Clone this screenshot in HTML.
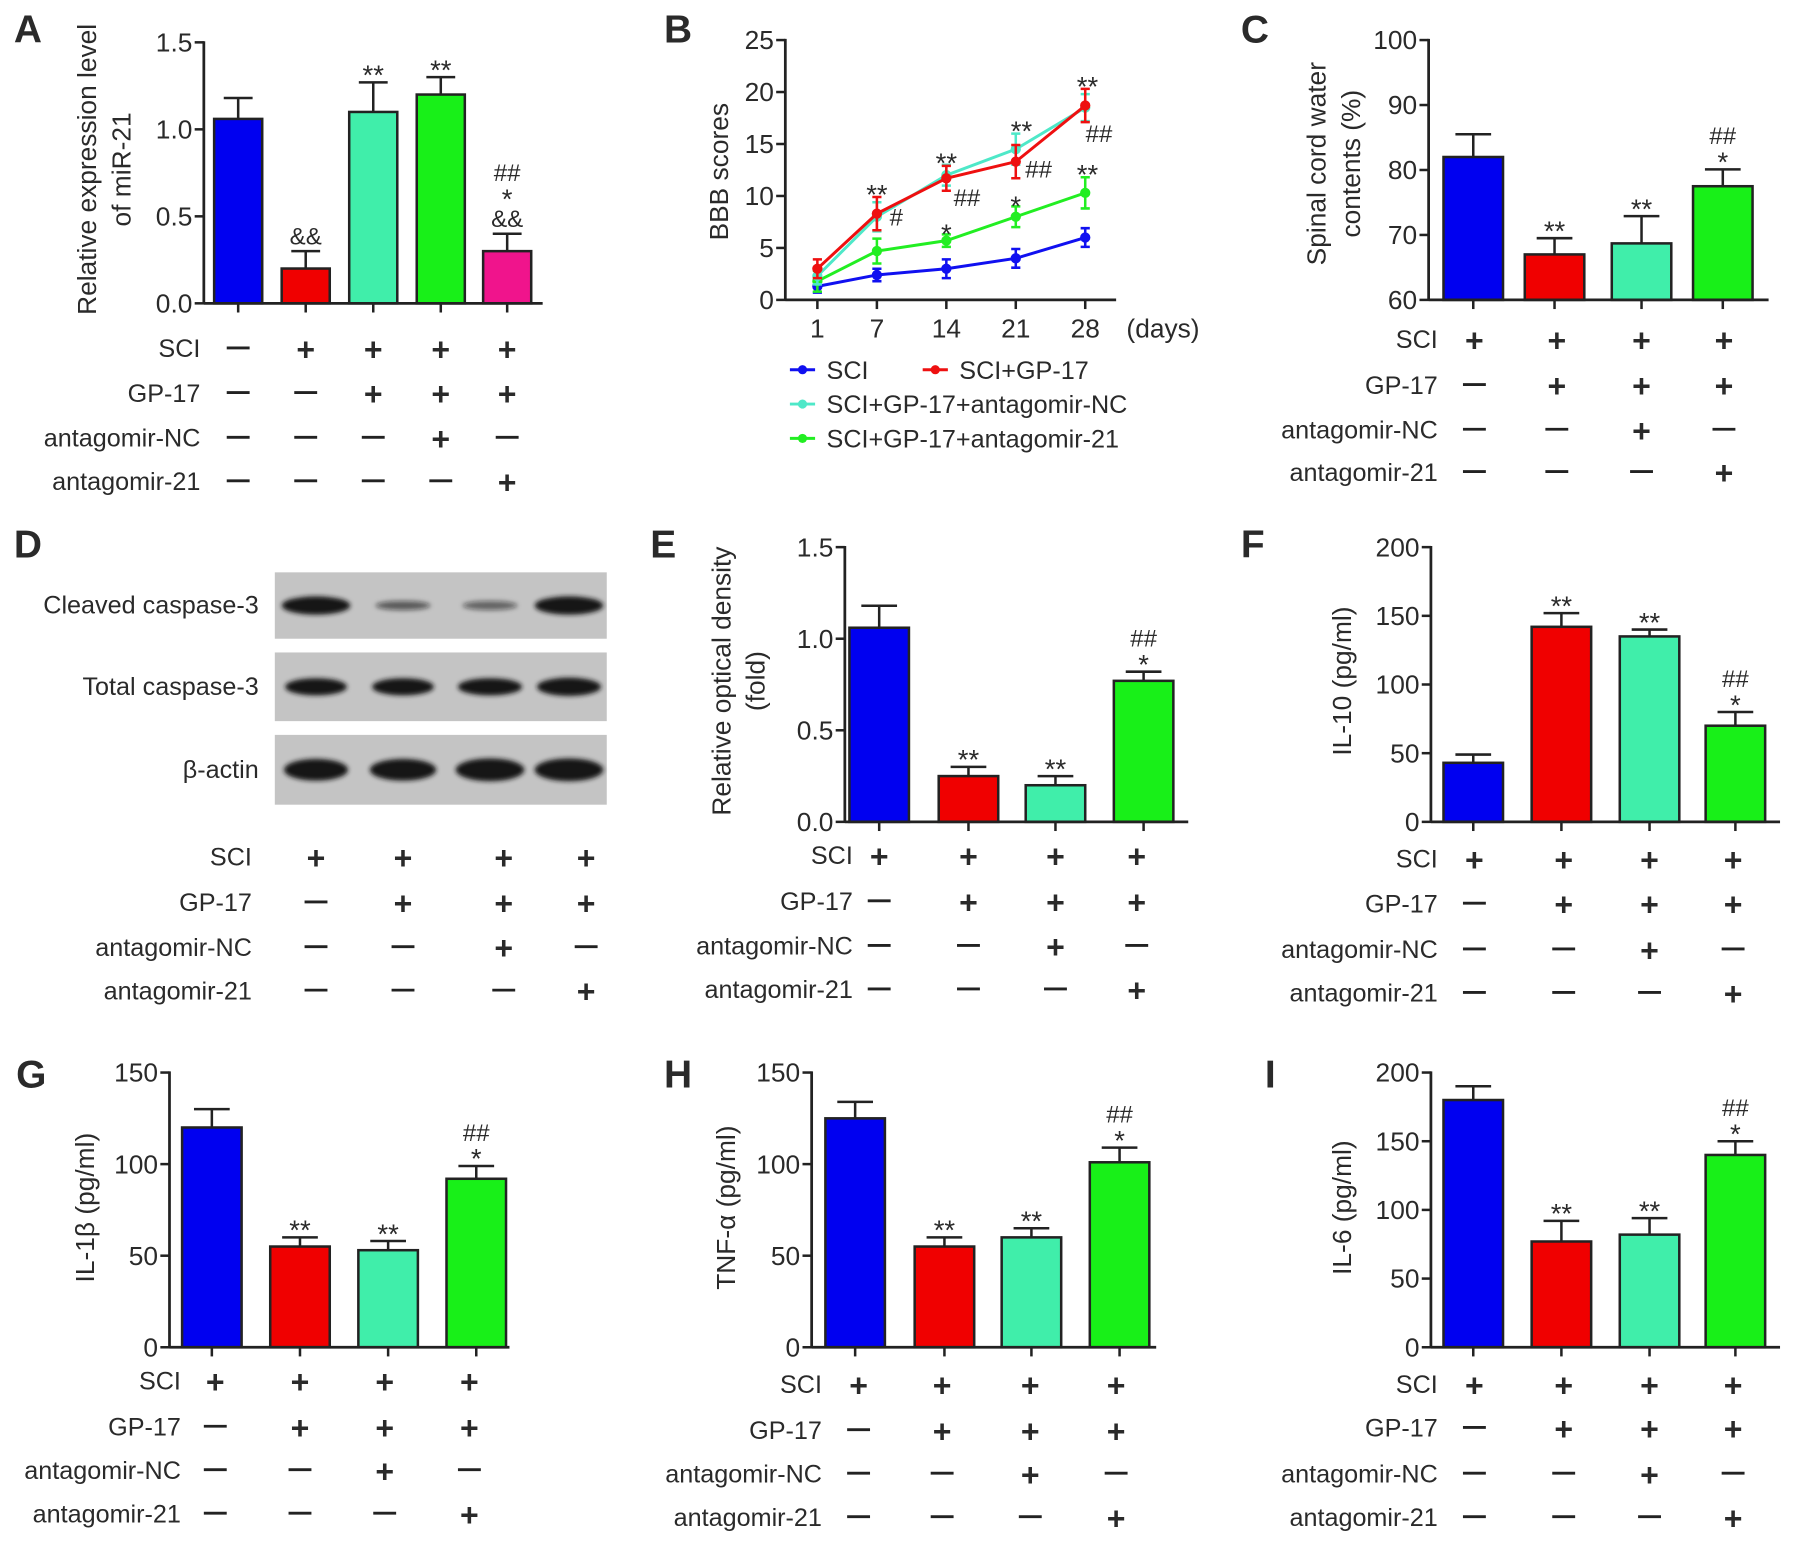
<!DOCTYPE html>
<html><head><meta charset="utf-8">
<style>
html,body{margin:0;padding:0;background:#fff;}
svg{display:block;}
text{font-family:"Liberation Sans",Arial,sans-serif;fill:#2a2a2a;}
</style></head>
<body>
<svg id="fig" width="1795" height="1543" viewBox="0 0 1568 1348" xmlns="http://www.w3.org/2000/svg">
<defs><filter id="blur" x="-20%" y="-50%" width="140%" height="200%"><feGaussianBlur stdDeviation="2.2"/></filter></defs>
</svg>
<script>
// ---------- DATA ----------
const groups5 = ["SCI","SCI+GP-17","SCI+GP-17+antagomir-NC","SCI+GP-17+antagomir-21","SCI+GP-17+antagomir-21b"];
const aValues = [1.06, 0.2, 1.1, 1.2, 0.3];
const aErrors = [0.12, 0.1, 0.17, 0.1, 0.1];
const aTicks = [0, 0.5, 1.0, 1.5];
const aTickLabels = ["0.0","0.5","1.0","1.5"];
const aMarks = [[], ["&&"], ["**"], ["**"], ["##","*","&&"]];
const aConds = [["-","+","+","+","+"],["-","-","+","+","+"],["-","-","-","+","-"],["-","-","-","-","+"]];

const bDays = [1, 7, 14, 21, 28];
const bTicks = [0, 5, 10, 15, 20, 25];
const bSCI = [1.3, 2.4, 3.0, 4.0, 6.0];
const bSCIerr = [0.6, 0.6, 0.9, 0.9, 0.9];
const bGP = [3.0, 8.3, 11.7, 13.3, 18.7];
const bGPerr = [0.9, 1.6, 1.2, 1.6, 1.6];
const bNC = [2.3, 8.0, 12.0, 14.5, 18.5];
const bNCerr = [0.8, 1.4, 1.0, 1.5, 1.3];
const bA21 = [1.8, 4.7, 5.7, 8.0, 10.3];
const bA21err = [1.0, 1.2, 0.6, 1.0, 1.5];

const cValues = [82, 67, 68.7, 77.5];
const cErrors = [3.5, 2.5, 4.2, 2.6];
const cTicks = [60, 70, 80, 90, 100];
const cMarks = [[], ["**"], ["**"], ["##","*"]];

const eValues = [1.06, 0.25, 0.2, 0.77];
const eErrors = [0.12, 0.05, 0.05, 0.05];
const eTicks = [0, 0.5, 1.0, 1.5];
const eTickLabels = ["0.0","0.5","1.0","1.5"];

const fValues = [43, 142, 135, 70];
const fErrors = [6, 10, 5, 10];
const fTicks = [0, 50, 100, 150, 200];

const gValues = [120, 55, 53, 92];
const gErrors = [10, 5, 5, 7];
const gTicks = [0, 50, 100, 150];

const hValues = [125, 55, 60, 101];
const hErrors = [9, 5, 5, 8];
const hTicks = [0, 50, 100, 150];

const iValues = [180, 77, 82, 140];
const iErrors = [10, 15, 12, 10];
const iTicks = [0, 50, 100, 150, 200];

const marks4 = [[], ["**"], ["**"], ["##","*"]];
const conds4 = [["+","+","+","+"],["-","+","+","+"],["-","-","+","-"],["-","-","-","+"]];
const condNames = ["SCI","GP-17","antagomir-NC","antagomir-21"];

// ---------- HELPERS ----------
const NS = "http://www.w3.org/2000/svg";
const svg = document.getElementById("fig");
function el(tag, attrs, parent, txt){
  const e = document.createElementNS(NS, tag);
  for (const k in attrs) e.setAttribute(k, attrs[k]);
  if (txt !== undefined) e.textContent = txt;
  (parent || svg).appendChild(e);
  return e;
}
const C = {blue:"#0000f0", red:"#f00000", aqua:"#40eeaa", green:"#18f018", pink:"#f0148c"};
const colors4 = [C.blue, C.red, C.aqua, C.green];
const colors5 = [C.blue, C.red, C.aqua, C.green, C.pink];

function letter(t, x, y){
  const e = el("text",{x:x,y:y,"font-size":34,"font-weight":"bold"},svg,t);
  
  
}

function yLabel(g, lines, x, cy){
  lines.forEach((ln, i) => {
    const tx = x + i*30;
    const e = el("text",{x:tx,y:cy,"font-size":23,"text-anchor":"middle",transform:`rotate(-90 ${tx} ${cy})`},g,ln);
    
    
  });
}

function condRows(g, names, rows, labelX, symX, rowY){
  rows.forEach((row, r) => {
    const lt = el("text",{x:labelX,y:rowY[r]+8,"font-size":22,"text-anchor":"end"},g,names[r]);
    
    
    row.forEach((s, i) => {
      if (s === "+") {
        const p = el("text",{x:symX[i],y:rowY[r]+11,"font-size":28,"font-weight":"bold","text-anchor":"middle"},g,"+");
        
        
      } else {
        const m = el("line",{x1:symX[i]-10,x2:symX[i]+10,y1:rowY[r],y2:rowY[r],stroke:"#222","stroke-width":2.5},g);
        
        
      }
    });
  });
}

function barPanel(o){
  const g = el("g",{});
  
  
  const yS = v => o.y0 - (v - o.min) / (o.max - o.min) * (o.y0 - o.yTop);
  // bars
  o.values.forEach((v, i) => {
    const cx = o.centers[i], w = o.bw;
    const top = yS(v), et = yS(v + o.errors[i]);
    const eb = el("line",{x1:cx,x2:cx,y1:top,y2:et,stroke:"#222","stroke-width":2.2},g);
    
    
    const cap = el("line",{x1:cx-w*0.3,x2:cx+w*0.3,y1:et,y2:et,stroke:"#222","stroke-width":2.2},g);
    
    
    const b = el("rect",{x:cx-w/2,y:top,width:w,height:o.y0-top,fill:o.colors[i],stroke:"#222","stroke-width":2.2},g);
    
    
    const tk = el("line",{x1:cx,x2:cx,y1:o.y0,y2:o.y0+8,stroke:"#222","stroke-width":2.2},g);
    
    
    // annotations
    const ms = o.marks[i] || [];
    let y = et - 6;
    for (let k = ms.length-1; k >= 0; k--) {
      const m = ms[k];
      const isStar = m.indexOf("*") >= 0;
      const t = el("text",{x:cx,y:isStar? y+8 : y,"font-size":isStar?24:21,"text-anchor":"middle"},g,m);
      
      
      y -= isStar ? 16 : 24;
    }
  });
  // axes
  const ya = el("line",{x1:o.ax,x2:o.ax,y1:o.yTop-1,y2:o.y0+1,stroke:"#222","stroke-width":2.4},g);
  
  
  const xa = el("line",{x1:o.ax,x2:o.xEnd,y1:o.y0,y2:o.y0,stroke:"#222","stroke-width":2.4},g);
  
  
  o.ticks.forEach((t, i) => {
    const y = yS(t);
    const tl = el("line",{x1:o.ax-8,x2:o.ax,y1:y,y2:y,stroke:"#222","stroke-width":2.2},g);
    
    
    const tt = el("text",{x:o.ax-10,y:y+8,"font-size":23,"text-anchor":"end"},g,o.tickLabels ? o.tickLabels[i] : String(t));
    
    
  });
  yLabel(g, o.ylabel, o.ylx, o.ylcy);
  condRows(g, condNames, o.conds, o.condLabelX, o.symX, o.rowY);
}

// ---------- PANEL A ----------
letter("A", 12, 37);
barPanel({name:"panel-a-mir21", ax:178, yTop:37, y0:265, xEnd:474, min:0, max:1.5,
  values:aValues, errors:aErrors, ticks:aTicks, tickLabels:aTickLabels, marks:aMarks,
  centers:[208,267,326,385,443], bw:42, colors:colors5,
  ylabel:["Relative expression level","of miR-21"], ylx:84, ylcy:148,
  conds:aConds, condLabelX:175, symX:[208,267,326,385,443], rowY:[304,343,382,420]});

// ---------- PANEL B (line chart) ----------
letter("B", 580, 37);
(function(){
  const g = el("g",{});
  
  
  const ax = 686, y0 = 262, yTop = 35, xEnd = 975;
  const xS = d => 714 + (d - 1) / 27 * (948 - 714);
  const yS = v => y0 - v / 25 * (y0 - yTop);
  const series = [
    {name:"sci", v:bSCI, e:bSCIerr, c:"#1010f0", marker:"circle"},
    {name:"sci-gp17-antagomir-21", v:bA21, e:bA21err, c:"#22ee22", marker:"tri"},
    {name:"sci-gp17-antagomir-nc", v:bNC, e:bNCerr, c:"#4ee8c8", marker:"tri"},
    {name:"sci-gp17", v:bGP, e:bGPerr, c:"#ee1010", marker:"square"}
  ];
  series.forEach(s => {
    const pts = bDays.map((d, i) => xS(d) + "," + yS(s.v[i])).join(" ");
    const pl = el("polyline",{points:pts,fill:"none",stroke:s.c,"stroke-width":2.6},g);
    
    
    bDays.forEach((d, i) => {
      const x = xS(d), y = yS(s.v[i]), yt = yS(s.v[i] + s.e[i]), yb = yS(s.v[i] - s.e[i]);
      const eb = el("path",{d:`M${x},${yt}V${yb}M${x-4},${yt}H${x+4}M${x-4},${yb}H${x+4}`,stroke:s.c,"stroke-width":2.2,fill:"none"},g);
      
      
      const p = el("circle",{cx:x,cy:y,r:4.5,fill:s.c},g);
      
      
    });
  });
  const ya = el("line",{x1:ax,x2:ax,y1:yTop-1,y2:y0+1,stroke:"#222","stroke-width":2.4},g);
  
  
  const xa = el("line",{x1:ax,x2:xEnd,y1:y0,y2:y0,stroke:"#222","stroke-width":2.4},g);
  
  
  bTicks.forEach(t => {
    const y = yS(t);
    const tl = el("line",{x1:ax-8,x2:ax,y1:y,y2:y,stroke:"#222","stroke-width":2.2},g);
    
    
    const tt = el("text",{x:ax-10,y:y+8,"font-size":23,"text-anchor":"end"},g,String(t));
    
    
  });
  bDays.forEach(d => {
    const x = xS(d);
    const tl = el("line",{x1:x,x2:x,y1:y0,y2:y0+8,stroke:"#222","stroke-width":2.2},g);
    
    
    const tt = el("text",{x:x,y:y0+33,"font-size":23,"text-anchor":"middle"},g,String(d));
    
    
  });
  const dy = el("text",{x:984,y:y0+33,"font-size":23},g,"(days)");
  
  
  yLabel(g, ["BBB scores"], 636, 150);
  // significance marks
  const ann = [
    [1,"**",0,bGP,bGPerr,-8],[1,"#",17,bA21,bA21err,-999],
    [2,"**",0,bGP,bGPerr,-8],[2,"##",18,bA21,bA21err,-999],[2,"*",0,bA21,bA21err,-4],
    [3,"**",5,bNC,bNCerr,-8],[3,"##",20,bGP,bGPerr,-999],[3,"*",0,bA21,bA21err,-4],
    [4,"**",2,bGP,bGPerr,-8],[4,"##",12,bGP,bGPerr,-1000],[4,"**",2,bA21,bA21err,-8]
  ];
  const hashY = {1:197, 2:180, 3:155, 4:124};
  ann.forEach(a => {
    const i = a[0], x = xS(bDays[i]) + a[2];
    let y;
    if (a[5] <= -999) y = hashY[i] + (a[5] === -1000 ? 0 : 0);
    else y = yS(a[3][i] + a[4][i]) + (a[1] === "*" ? 12 : 14) + a[5];
    const t = el("text",{x:x,y:y,"font-size":a[1].indexOf("#")>=0?21:24,"text-anchor":"middle"},g,a[1]);
    
    
  });
  // legend
  const leg = [
    [690,323,"#1010f0","SCI"],[806,323,"#ee1010","SCI+GP-17"],
    [690,353,"#4ee8c8","SCI+GP-17+antagomir-NC"],[690,383,"#22ee22","SCI+GP-17+antagomir-21"]
  ];
  leg.forEach(l => {
    const lg = el("g",{},g);
    
    
    el("line",{x1:l[0],x2:l[0]+22,y1:l[1],y2:l[1],stroke:l[2],"stroke-width":2.6},lg);
    el("circle",{cx:l[0]+11,cy:l[1],r:4,fill:l[2]},lg);
    el("text",{x:l[0]+32,y:l[1]+8,"font-size":22},lg,l[3]);
  });
})();

// ---------- PANEL C ----------
letter("C", 1084, 37);
barPanel({name:"panel-c-water-content", ax:1248, yTop:35, y0:262, xEnd:1545, min:60, max:100,
  values:cValues, errors:cErrors, ticks:cTicks, marks:cMarks,
  centers:[1287,1358,1434,1505], bw:52, colors:colors4,
  ylabel:["Spinal cord water","contents (%)"], ylx:1158, ylcy:143,
  conds:conds4, condLabelX:1256, symX:[1288,1360,1434,1506], rowY:[296,336,375,412]});

// ---------- PANEL D (western blot) ----------
letter("D", 12, 487);
(function(){
  const g = el("g",{});
  
  
  const rows = [
    {label:"Cleaved caspase-3", y:500, h:58, bands:[[1,14],[0.6,6],[0.55,6],[1,14]], w:[56,44,44,56]},
    {label:"Total caspase-3", y:570, h:60, bands:[[1,13],[1,13],[1,13],[1,14]], w:[50,50,52,52]},
    {label:"β-actin", y:642, h:61, bands:[[1,17],[1,17],[1,18],[1,18]], w:[52,54,56,56]}
  ];
  const lanes = [276,352,428,497];
  rows.forEach(r => {
    const rg = el("g",{},g);
    
    
    el("rect",{x:240,y:r.y,width:290,height:r.h,fill:"#c4c4c4"},rg);
    const cy = r.y + r.h/2;
    lanes.forEach((lx, i) => {
      const b = el("ellipse",{cx:lx,cy:cy,rx:r.w[i]/2+2,ry:r.bands[i][1]/2+1,fill:"#151515","fill-opacity":r.bands[i][0],filter:"url(#blur)"},rg);
      
      
    });
    const t = el("text",{x:226,y:cy+7,"font-size":22,"text-anchor":"end"},g,r.label);
    
    
  });
  condRows(g, condNames, conds4, 220, [276,352,440,512], [748,788,827,865]);
})();

// ---------- PANEL E ----------
letter("E", 568, 487);
barPanel({name:"panel-e-optical-density", ax:738, yTop:478, y0:718, xEnd:1038, min:0, max:1.5,
  values:eValues, errors:eErrors, ticks:eTicks, tickLabels:eTickLabels, marks:marks4,
  centers:[768,846,922,999], bw:52, colors:colors4,
  ylabel:["Relative optical density","(fold)"], ylx:638, ylcy:595,
  conds:conds4, condLabelX:745, symX:[768,846,922,993], rowY:[747,787,826,864]});

// ---------- PANEL F ----------
letter("F", 1084, 487);
barPanel({name:"panel-f-il10", ax:1250, yTop:478, y0:718, xEnd:1555, min:0, max:200,
  values:fValues, errors:fErrors, ticks:fTicks, marks:marks4,
  centers:[1287,1364,1441,1516], bw:52, colors:colors4,
  ylabel:["IL-10 (pg/ml)"], ylx:1180, ylcy:595,
  conds:conds4, condLabelX:1256, symX:[1288,1366,1441,1514], rowY:[750,789,829,867]});

// ---------- PANEL G ----------
letter("G", 14, 950);
barPanel({name:"panel-g-il1b", ax:148, yTop:937, y0:1177, xEnd:445, min:0, max:150,
  values:gValues, errors:gErrors, ticks:gTicks, marks:marks4,
  centers:[185,262,339,416], bw:52, colors:colors4,
  ylabel:["IL-1β (pg/ml)"], ylx:82, ylcy:1055,
  conds:conds4, condLabelX:158, symX:[188,262,336,410], rowY:[1206,1246,1284,1322]});

// ---------- PANEL H ----------
letter("H", 580, 950);
barPanel({name:"panel-h-tnfa", ax:709, yTop:937, y0:1177, xEnd:1010, min:0, max:150,
  values:hValues, errors:hErrors, ticks:hTicks, marks:marks4,
  centers:[747,825,901,978], bw:52, colors:colors4,
  ylabel:["TNF-α (pg/ml)"], ylx:642, ylcy:1055,
  conds:conds4, condLabelX:718, symX:[750,823,900,975], rowY:[1209,1249,1287,1325]});

// ---------- PANEL I ----------
letter("I", 1105, 950);
barPanel({name:"panel-i-il6", ax:1250, yTop:937, y0:1177, xEnd:1555, min:0, max:200,
  values:iValues, errors:iErrors, ticks:iTicks, marks:marks4,
  centers:[1287,1364,1441,1516], bw:52, colors:colors4,
  ylabel:["IL-6 (pg/ml)"], ylx:1180, ylcy:1055,
  conds:conds4, condLabelX:1256, symX:[1288,1366,1441,1514], rowY:[1209,1247,1287,1325]});
</script>
</body></html>
